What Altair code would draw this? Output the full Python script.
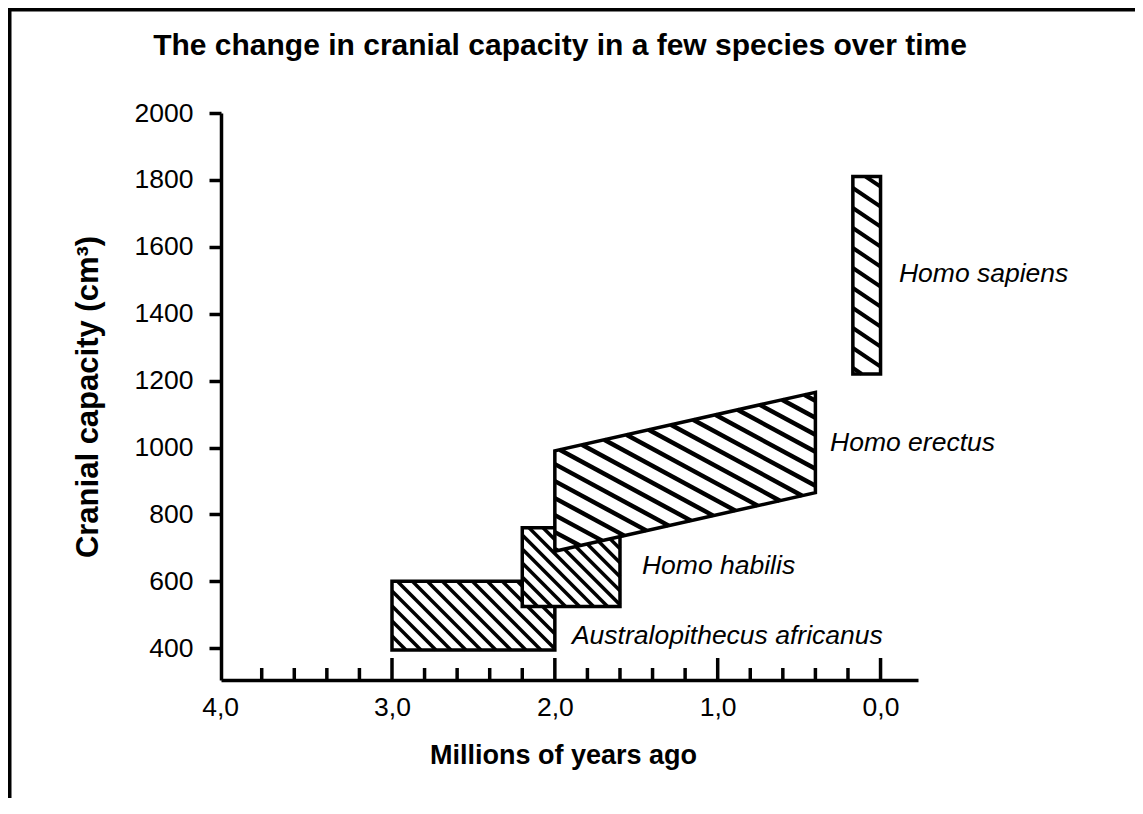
import altair as alt
import pandas as pd

# ---------------- data ----------------
species = ["Australopithecus africanus", "Homo habilis", "Homo erectus", "Homo sapiens"]
older_mya = [3.0, 2.2, 2.0, 0.17]          # left edge of each band (millions of years ago)
younger_mya = [2.0, 1.6, 0.4, 0.0]         # right edge
min_cc_older = [395, 525, 690, 1220]       # cranial capacity range at left edge
max_cc_older = [600, 760, 990, 1810]
min_cc_younger = [395, 525, 865, 1220]     # cranial capacity range at right edge
max_cc_younger = [600, 760, 1165, 1810]
label_mya = [1.895, 1.465, 0.31, -0.113]   # where each species name sits
label_cc = [436, 646, 1013, 1520]

y_tick_values = [400, 600, 800, 1000, 1200, 1400, 1600, 1800, 2000]
x_label_values = [4.0, 3.0, 2.0, 1.0, 0.0]
x_major_ticks = [3.0, 2.0, 1.0, 0.0]
x_minor_ticks = [3.8, 3.6, 3.4, 3.2, 2.8, 2.6, 2.4, 2.2, 1.8, 1.6, 1.4, 1.2, 0.8, 0.6, 0.4, 0.2]

title_text = "The change in cranial capacity in a few species over time"
x_title = "Millions of years ago"
y_title = "Cranial capacity (cm³)"

# ---------------- layout / style ----------------
W, H = 697, 567
X_DOMAIN = [-0.23, 4.05]
Y_DOMAIN = [305, 2000]
FONT = "Liberation Sans"
# hatch: screen slope (down-right), vertical gap in px, line width
hatch_style = {
    "Australopithecus africanus": (1.0, 15, 3.5),
    "Homo habilis": (1.0, 14, 3.5),
    "Homo erectus": (0.54, 17, 4.5),
    "Homo sapiens": (0.67, 20, 4),
}


def px(v):
    return (X_DOMAIN[1] - v) / (X_DOMAIN[1] - X_DOMAIN[0]) * W


def py(c):
    return (Y_DOMAIN[1] - c) / (Y_DOMAIN[1] - Y_DOMAIN[0]) * H


def inv_px(p):
    return X_DOMAIN[1] - p / W * (X_DOMAIN[1] - X_DOMAIN[0])


def inv_py(p):
    return Y_DOMAIN[1] - p / H * (Y_DOMAIN[1] - Y_DOMAIN[0])


def hatch_rows(poly, slope, gap):
    g = [p[1] - slope * p[0] for p in poly]
    rows = []
    c = min(g) + gap / 2.0
    n = len(poly)
    while c < max(g):
        pts = []
        for i in range(n):
            P, Q = poly[i], poly[(i + 1) % n]
            fP = P[1] - slope * P[0] - c
            fQ = Q[1] - slope * Q[0] - c
            if (fP < 0) != (fQ < 0):
                t = fP / (fP - fQ)
                pts.append((P[0] + t * (Q[0] - P[0]), P[1] + t * (Q[1] - P[1])))
        if len(pts) >= 2:
            pts.sort()
            a, b = pts[0], pts[-1]
            rows.append({"x1": inv_px(a[0]), "y1": inv_py(a[1]),
                         "x2": inv_px(b[0]), "y2": inv_py(b[1])})
        c += gap
    return pd.DataFrame(rows)


x_scale = alt.Scale(domain=X_DOMAIN, reverse=True, nice=False, zero=False)
y_scale = alt.Scale(domain=Y_DOMAIN, nice=False, zero=False)

x_axis = alt.Axis(
    values=x_label_values,
    labelExpr="replace(format(datum.value, '.1f'), '.', ',')",
    ticks=False, grid=False,
    domainColor="black", domainWidth=3.5,
    labelFont=FONT, labelFontSize=26.5, labelColor="black", labelPadding=14,
    labelFlush=False, labelOverlap=False,
    labelOffset={"condition": {"test": "datum.value == 4", "value": -9}, "value": 0},
    title=x_title, titleFont=FONT, titleFontSize=27, titleFontWeight="bold",
    titleColor="black", titleX=342, titleY=83, titleAlign="center",
    titleBaseline="alphabetic",
)
y_axis = alt.Axis(
    values=y_tick_values, format="d",
    tickSize=12, tickWidth=3.5, tickColor="black", grid=False,
    domainColor="black", domainWidth=3.5,
    labelFont=FONT, labelFontSize=26.5, labelColor="black", labelPadding=16,
    labelOverlap=False,
    title=y_title, titleFont=FONT, titleFontSize=31, titleFontWeight="bold",
    titleColor="black", titleX=-124, titleY=H / 2, titleAngle=270,
    titleAlign="center", titleBaseline="alphabetic",
)


def X(field):
    return alt.X(field, type="quantitative", scale=x_scale, axis=x_axis)


def Y(field):
    return alt.Y(field, type="quantitative", scale=y_scale, axis=y_axis)


layers = []

# frame around the whole figure
frame = alt.Chart(pd.DataFrame({"k": [0]})).mark_rect(
    fillOpacity=0, stroke="black", strokeWidth=4
).encode(x=alt.value(-211.5), x2=alt.value(1200), y=alt.value(-103.5), y2=alt.value(1000))
layers.append(frame)

for i, sp in enumerate(species):
    shape_df = pd.DataFrame({
        "mya": [older_mya[i], younger_mya[i]],
        "lo": [min_cc_older[i], min_cc_younger[i]],
        "hi": [max_cc_older[i], max_cc_younger[i]],
    })
    poly = [
        (px(older_mya[i]), py(max_cc_older[i])),
        (px(younger_mya[i]), py(max_cc_younger[i])),
        (px(younger_mya[i]), py(min_cc_younger[i])),
        (px(older_mya[i]), py(min_cc_older[i])),
    ]
    slope, gap, lw = hatch_style[sp]
    hdf = hatch_rows(poly, slope, gap)

    fill = alt.Chart(shape_df).mark_area(color="white", opacity=1).encode(
        x=X("mya"), y=Y("lo"), y2="hi")
    hatch = alt.Chart(hdf).mark_rule(color="black", strokeWidth=lw, strokeCap="butt").encode(
        x=X("x1"), y=Y("y1"), x2="x2", y2="y2")
    outline = alt.Chart(shape_df).mark_area(
        fillOpacity=0, stroke="black", strokeWidth=3.5, strokeJoin="miter"
    ).encode(x=X("mya"), y=Y("lo"), y2="hi")
    layers += [fill, hatch, outline]

major = alt.Chart(pd.DataFrame({"t": x_major_ticks})).mark_rule(
    color="black", strokeWidth=3.5).encode(x=X("t"), y=alt.value(H), y2=alt.value(H - 22))
minor = alt.Chart(pd.DataFrame({"t": x_minor_ticks})).mark_rule(
    color="black", strokeWidth=3.5).encode(x=X("t"), y=alt.value(H), y2=alt.value(H - 12))
layers += [major, minor]

labels_df = pd.DataFrame({"name": species, "mya": label_mya, "cc": label_cc})
labels = alt.Chart(labels_df).mark_text(
    font=FONT, fontSize=26.5, fontStyle="italic", color="black", align="left", baseline="middle"
).encode(x=X("mya"), y=Y("cc"), text="name:N")
layers.append(labels)

title = alt.Chart(pd.DataFrame({"t": [title_text]})).mark_text(
    font=FONT, fontSize=30, fontWeight="bold", color="black", align="center", baseline="alphabetic"
).encode(x=alt.value(339), y=alt.value(-58), text="t:N")
layers.append(title)

chart = alt.layer(*layers).properties(
    width=W, height=H,
    autosize=alt.AutoSizeParams(type="none"),
    padding={"left": 213, "top": 105, "right": 217, "bottom": 118},
    background="white",
).configure_view(stroke=None)

chart.save("out.html", embed_options={"renderer": "svg", "actions": False})
